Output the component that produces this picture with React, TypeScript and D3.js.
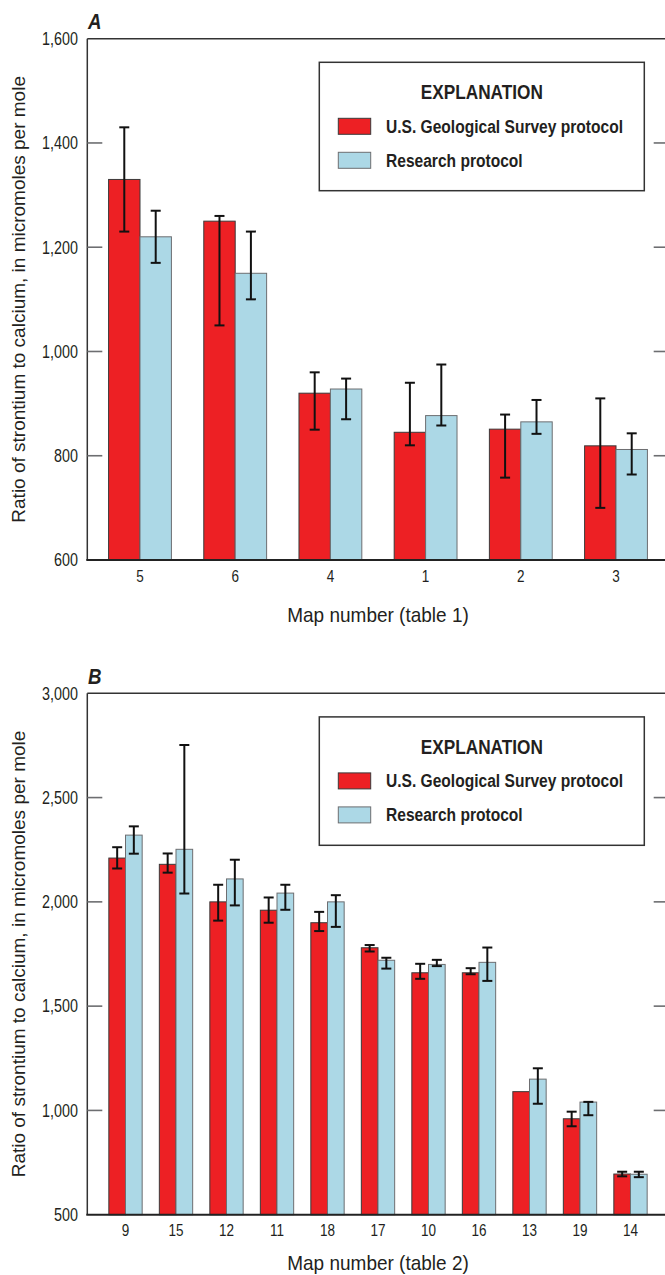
import React from 'react';
import { scaleBand, scaleLinear } from 'd3';

// panel A (table 1)
const mapA = ['5', '6', '4', '1', '2', '3'];
const usgsA = [1330, 1250, 920, 845, 851, 819];
const usgsALow = [1230, 1050, 850, 820, 758, 700];
const usgsAHigh = [1430, 1260, 960, 940, 879, 910];
const researchA = [1220, 1150, 928, 877, 865, 812];
const researchALow = [1170, 1100, 870, 858, 842, 764];
const researchAHigh = [1270, 1230, 948, 975, 907, 843];
const ticksA = [600, 800, 1000, 1200, 1400, 1600];

// panel B (table 2)
const mapB = ['9', '15', '12', '11', '18', '17', '10', '16', '13', '19', '14'];
const usgsB = [2210, 2180, 2000, 1960, 1900, 1780, 1660, 1660, 1090, 960, 695];
const usgsBLow = [2160, 2140, 1910, 1900, 1860, 1762, 1631, 1653, null, 924, 684];
const usgsBHigh = [2262, 2232, 2082, 2021, 1952, 1793, 1703, 1682, null, 994, 706];
const researchB = [2320, 2252, 2110, 2042, 2000, 1720, 1700, 1710, 1150, 1040, 694];
const researchBLow = [2231, 2040, 1983, 1962, 1880, 1680, 1692, 1621, 1032, 977, 680];
const researchBHigh = [2362, 2752, 2202, 2082, 2032, 1732, 1722, 1781, 1202, 1041, 706];
const ticksB = [500, 1000, 1500, 2000, 2500, 3000];

const seriesNames = ['U.S. Geological Survey protocol', 'Research protocol'];
const RED = '#ed2024';
const BLUE = '#acd8e6';
const TEXT = '#231f20';
const SANS = "'Liberation Sans', Arial, sans-serif";
const yTitle = 'Ratio of strontium to calcium, in micromoles per mole';

const left = 87.3;
const right = 668.7;

// condensed text: no narrow face installed, so squeeze Liberation Sans
const NText = ({ x, y, size, anchor = 'start', bold = false, italic = false, sx = 0.82, dy, children }: any) => (
  <text
    transform={`translate(${x},${y}) scale(${sx},1)`}
    dy={dy}
    textAnchor={anchor}
    fontFamily={SANS}
    fontSize={size}
    fontWeight={bold ? 'bold' : 'normal'}
    fontStyle={italic ? 'italic' : 'normal'}
    fill={TEXT}
  >
    {children}
  </text>
);

type PanelProps = {
  letter: string;
  top: number;
  bottom: number;
  cats: string[];
  usgs: number[];
  usgsLow: (number | null)[];
  usgsHigh: (number | null)[];
  research: number[];
  researchLow: (number | null)[];
  researchHigh: (number | null)[];
  ticks: number[];
  outer: number;
  xTitle: string;
  xTitleY: number;
};

const Panel = (p: PanelProps) => {
  const x = scaleBand<string>()
    .domain(p.cats)
    .range([left, right])
    .paddingInner(0.34)
    .paddingOuter(p.outer);
  const y = scaleLinear()
    .domain([p.ticks[0], p.ticks[p.ticks.length - 1]])
    .range([p.bottom, p.top]);
  const bw = x.bandwidth() / 2;
  const series = [
    { vals: p.usgs, lo: p.usgsLow, hi: p.usgsHigh, fill: RED, stroke: '#3a3a3a', off: 0 },
    { vals: p.research, lo: p.researchLow, hi: p.researchHigh, fill: BLUE, stroke: '#6d6e71', off: bw }
  ];
  const base = y(p.ticks[0]);
  const mid = (p.top + p.bottom) / 2;
  const cx = (x(p.cats[0])! + x(p.cats[p.cats.length - 1])! + x.bandwidth()) / 2;
  const lgTop = p.top + 23.6;
  const lgLeft = 319.3;

  return (
    <g>
      <NText x={88} y={p.top - 9.5} size={22} bold italic sx={0.85}>
        {p.letter}
      </NText>

      {/* bars */}
      {series.map((s, si) =>
        p.cats.map((c, i) => (
          <rect
            key={`b${si}-${c}`}
            x={x(c)! + s.off}
            y={y(s.vals[i])}
            width={bw}
            height={base - y(s.vals[i])}
            fill={s.fill}
            stroke={s.stroke}
            strokeWidth={1}
          />
        ))
      )}

      {/* error bars */}
      {series.map((s, si) =>
        p.cats.map((c, i) => {
          const lo = s.lo[i];
          const hi = s.hi[i];
          if (lo == null || hi == null) return null;
          const ex = x(c)! + s.off + bw / 2;
          return (
            <g key={`e${si}-${c}`} stroke="#111" strokeWidth={2} fill="none">
              <line x1={ex} x2={ex} y1={y(lo)} y2={y(hi)} />
              <line x1={ex - 5} x2={ex + 5} y1={y(lo)} y2={y(lo)} />
              <line x1={ex - 5} x2={ex + 5} y1={y(hi)} y2={y(hi)} />
            </g>
          );
        })
      )}

      {/* frame */}
      <line x1={left} x2={right} y1={p.top} y2={p.top} stroke="#333" strokeWidth={1.5} />
      <line x1={left} x2={left} y1={p.top} y2={base} stroke="#333" strokeWidth={1.5} />
      <line x1={right} x2={right} y1={p.top} y2={base} stroke="#333" strokeWidth={1.5} />
      <line x1={left - 1} x2={right} y1={base} y2={base} stroke="#222" strokeWidth={2} />

      {/* y ticks */}
      {p.ticks.map((t, i) => (
        <g key={`t${t}`}>
          {i > 0 && i < p.ticks.length - 1 && (
            <g stroke="#6d6e71" strokeWidth={1.6}>
              <line x1={left} x2={left + 15} y1={y(t)} y2={y(t)} />
              <line x1={right - 15} x2={right} y1={y(t)} y2={y(t)} />
            </g>
          )}
          <NText x={78} y={y(t)} dy="0.36em" anchor="end" size={17.5}>
            {t.toLocaleString('en-US')}
          </NText>
        </g>
      ))}

      {/* x labels */}
      {p.cats.map(c => (
        <NText key={`x${c}`} x={x(c)! + x.bandwidth() / 2} y={base + 21.5} anchor="middle" size={16.5}>
          {c}
        </NText>
      ))}
      <NText x={cx} y={p.xTitleY} anchor="middle" size={20} sx={0.95}>
        {p.xTitle}
      </NText>
      <text transform={`translate(25,${mid}) rotate(-90)`} textAnchor="middle" fontFamily={SANS} fontSize={19} fill={TEXT}>
        {yTitle}
      </text>

      {/* legend */}
      <rect x={lgLeft} y={lgTop} width={325} height={128.4} fill="#fff" stroke="#333" strokeWidth={1.5} />
      <NText x={lgLeft + 162.5} y={lgTop + 36.7} anchor="middle" size={21} bold>
        EXPLANATION
      </NText>
      {seriesNames.map((n, i) => (
        <g key={n}>
          <rect x={lgLeft + 19} y={lgTop + 56 + i * 34} width={32.4} height={16} fill={series[i].fill} stroke={series[i].stroke} strokeWidth={1} />
          <NText x={lgLeft + 66.7} y={lgTop + 70.4 + i * 34} size={19} bold>
            {n}
          </NText>
        </g>
      ))}
    </g>
  );
};

export default function App() {
  return (
    <svg width={665} height={1275} style={{ position: 'absolute', left: 0, top: 0, background: '#fff' }}>
      <Panel
        letter="A"
        top={38.7}
        bottom={560}
        cats={mapA}
        usgs={usgsA}
        usgsLow={usgsALow}
        usgsHigh={usgsAHigh}
        research={researchA}
        researchLow={researchALow}
        researchHigh={researchAHigh}
        ticks={ticksA}
        outer={0.2235}
        xTitle="Map number (table 1)"
        xTitleY={622}
      />
      <Panel
        letter="B"
        top={693.3}
        bottom={1214.7}
        cats={mapB}
        usgs={usgsB}
        usgsLow={usgsBLow}
        usgsHigh={usgsBHigh}
        research={researchB}
        researchLow={researchBLow}
        researchHigh={researchBHigh}
        ticks={ticksB}
        outer={0.4265}
        xTitle="Map number (table 2)"
        xTitleY={1270}
      />
    </svg>
  );
}
